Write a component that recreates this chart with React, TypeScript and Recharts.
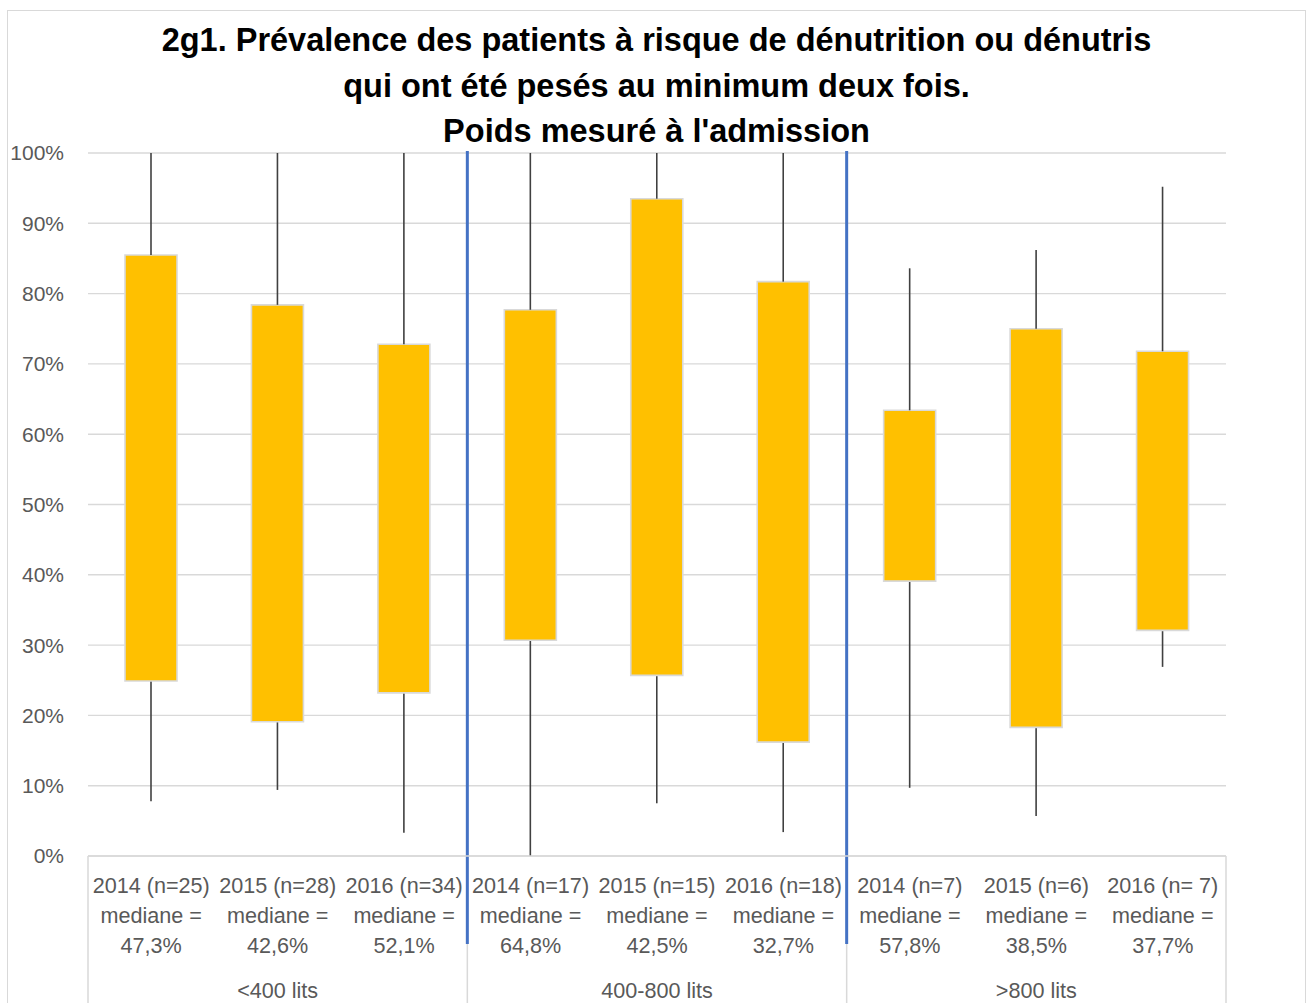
import React from 'react';
import { ComposedChart, Bar, XAxis, YAxis, CartesianGrid, ReferenceLine } from 'recharts';

const categories = ['2014 (n=25)', '2015 (n=28)', '2016 (n=34)', '2014 (n=17)', '2015 (n=15)', '2016 (n=18)', '2014 (n=7)', '2015 (n=6)', '2016 (n= 7)'];
const medians = ['47,3%', '42,6%', '52,1%', '64,8%', '42,5%', '32,7%', '57,8%', '38,5%', '37,7%'];
const groups = ['<400 lits', '<400 lits', '<400 lits', '400-800 lits', '400-800 lits', '400-800 lits', '>800 lits', '>800 lits', '>800 lits'];
const whiskerLow = [7.8, 9.4, 3.3, 0, 7.5, 3.4, 9.7, 5.7, 26.9];
const q1 = [24.9, 19.1, 23.2, 30.7, 25.7, 16.2, 39.1, 18.3, 32.1];
const q3 = [85.5, 78.4, 72.8, 77.7, 93.5, 81.7, 63.4, 75.0, 71.8];
const whiskerHigh = [100, 100, 100, 100, 100, 100, 83.6, 86.2, 95.2];
const yTicks = [0, 10, 20, 30, 40, 50, 60, 70, 80, 90, 100];
// group separators: category index + band edge
const graySeparators: [number, 'start' | 'end'][] = [[0, 'start'], [3, 'start'], [6, 'start'], [8, 'end']];
const blueSeparators = [3, 6];
const titleLines = [
  '2g1. Prévalence des patients à risque de dénutrition ou dénutris',
  'qui ont été pesés au minimum deux fois.',
  "Poids mesuré à l'admission",
];

const data = categories.map((name, i) => ({
  name,
  group: groups[i],
  base: whiskerLow[i],
  lowW: q1[i] - whiskerLow[i],
  box: q3[i] - q1[i],
  highW: whiskerHigh[i] - q3[i],
}));

const FONT = '"Liberation Sans", Arial, sans-serif';
const TXT = '#595959';

const Whisker = (p: any) => {
  const cx = p.x + p.width / 2;
  return <line x1={cx} x2={cx} y1={p.y} y2={p.y + p.height} stroke="#404040" strokeWidth={1.6} />;
};
const Empty = () => <g />;

const CatTick = (p: any) => {
  const { x, y, index, payload } = p;
  const lines = [payload.value, 'mediane =', medians[index]];
  return (
    <g>
      {lines.map((t, k) => (
        <text key={k} x={x} y={y + 37 + 30 * k} textAnchor="middle" fill={TXT} fontSize={21.6} fontFamily={FONT}>
          {t}
        </text>
      ))}
    </g>
  );
};

const GroupTick = (p: any) => (
  <text x={p.x} y={p.y + 42} textAnchor="middle" fill={TXT} fontSize={21.6} fontFamily={FONT}>
    {p.payload.value}
  </text>
);

const BlueLine = (p: any) => {
  const top = Math.min(p.y1, p.y2);
  const bot = Math.max(p.y1, p.y2);
  return <line x1={p.x1} x2={p.x2} y1={top - 2} y2={bot + 88} stroke="#4472C4" strokeWidth={3} />;
};
const GrayLine = (p: any) => {
  const bot = Math.max(p.y1, p.y2);
  return <line x1={p.x1} x2={p.x2} y1={bot} y2={bot + 150} stroke="#d9d9d9" strokeWidth={1.5} />;
};

export default function App() {
  return (
    <div style={{ position: 'absolute', left: 0, top: 0, width: 1311, height: 1003, overflow: 'hidden', background: '#fff' }}>
      <div style={{ position: 'absolute', left: 7, top: 10, width: 1297, height: 1100, border: '1.5px solid #d9d9d9' }} />
      <div style={{ position: 'absolute', left: 7, top: 18, width: 1299, textAlign: 'center', fontFamily: FONT, fontWeight: 'bold', fontSize: 32.5, lineHeight: '45.5px', color: '#000' }}>
        {titleLines.map((t, i) => (
          <div key={i}>{t}</div>
        ))}
      </div>
      <div style={{ position: 'absolute', left: 0, top: 0 }}>
        <ComposedChart width={1311} height={1003} data={data} margin={{ top: 153, right: 85, left: 0, bottom: 0 }} barSize={52}>
          <CartesianGrid vertical={false} stroke="#d9d9d9" strokeWidth={1.4} />
          <YAxis
            domain={[0, 100]}
            ticks={yTicks}
            width={88}
            axisLine={false}
            tickLine={false}
            tickSize={6}
            tickMargin={18}
            tickFormatter={(v: number) => `${v}%`}
            tick={{ fill: TXT, fontSize: 21, fontFamily: FONT }}
            allowDataOverflow
          />
          <XAxis
            xAxisId="cat"
            dataKey="name"
            height={100}
            interval={0}
            tickSize={0}
            tickMargin={0}
            tickLine={false}
            axisLine={{ stroke: '#d9d9d9', strokeWidth: 1.5 }}
            tick={<CatTick />}
          />
          <XAxis
            xAxisId="grp"
            dataKey="group"
            allowDuplicatedCategory={false}
            height={47}
            interval={0}
            tickSize={0}
            tickMargin={0}
            tickLine={false}
            axisLine={false}
            tick={<GroupTick />}
          />
          <Bar xAxisId="cat" dataKey="base" stackId="a" shape={<Empty />} isAnimationActive={false} />
          <Bar xAxisId="cat" dataKey="lowW" stackId="a" shape={<Whisker />} isAnimationActive={false} />
          <Bar xAxisId="cat" dataKey="box" stackId="a" fill="#FFC000" stroke="#d9d9d9" strokeWidth={1.6} isAnimationActive={false} />
          <Bar xAxisId="cat" dataKey="highW" stackId="a" shape={<Whisker />} isAnimationActive={false} />
          {graySeparators.map(([i, pos]) => (
            <ReferenceLine key={`g${i}${pos}`} xAxisId="cat" x={categories[i]} position={pos} shape={<GrayLine />} />
          ))}
          {blueSeparators.map((i) => (
            <ReferenceLine key={`b${i}`} xAxisId="cat" x={categories[i]} position="start" shape={<BlueLine />} />
          ))}
        </ComposedChart>
      </div>
    </div>
  );
}
